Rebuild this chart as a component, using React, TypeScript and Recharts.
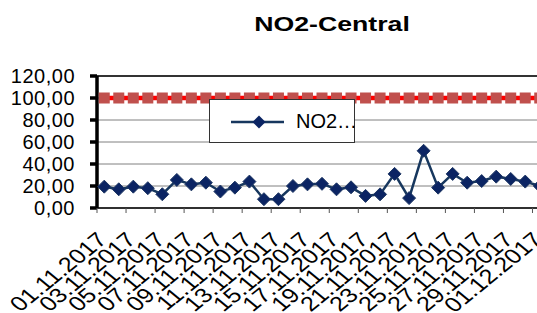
import React from 'react';
import {
  ComposedChart,
  Line,
  XAxis,
  YAxis,
  CartesianGrid,
  Legend,
  ReferenceLine,
} from 'recharts';

// dates of the measurements (daily, November 2017)
const dates = [
  '01.11.2017', '02.11.2017', '03.11.2017', '04.11.2017', '05.11.2017',
  '06.11.2017', '07.11.2017', '08.11.2017', '09.11.2017', '10.11.2017',
  '11.11.2017', '12.11.2017', '13.11.2017', '14.11.2017', '15.11.2017',
  '16.11.2017', '17.11.2017', '18.11.2017', '19.11.2017', '20.11.2017',
  '21.11.2017', '22.11.2017', '23.11.2017', '24.11.2017', '25.11.2017',
  '26.11.2017', '27.11.2017', '28.11.2017', '29.11.2017', '30.11.2017',
  '01.12.2017',
];

const no2Values = [
  19.4, 17, 19.4, 18, 12.5, 25.5, 21.5, 23, 15, 18.5,
  24, 8, 8, 20, 21.5, 22, 17, 18.8, 11, 12.4,
  31, 9, 52, 18.5, 31, 23, 24.5, 28.5, 26.4, 24,
  20,
];

const limitValues = dates.map(() => 100);

const yTicks = [0, 20, 40, 60, 80, 100, 120];

const data = dates.map((date, i) => ({
  date,
  no2: no2Values[i],
  limit: limitValues[i],
}));

const FONT = '"Liberation Sans", Arial, sans-serif';
const NAVY = '#0b2463';
const BAND = 14.5;

const fmt = (v: number) => v.toFixed(2).replace('.', ',');

const Diamond = (props: any) => {
  const { cx, cy } = props;
  if (cx == null || cy == null) return null;
  const r = 6.5;
  return (
    <path
      d={`M${cx},${cy - r} L${cx + r},${cy} L${cx},${cy + r} L${cx - r},${cy} Z`}
      fill={NAVY}
      stroke="#1f3864"
      strokeWidth={1}
    />
  );
};

const Square = (props: any) => {
  const { cx, cy } = props;
  if (cx == null || cy == null) return null;
  return <rect x={cx - 5.5} y={cy - 5.5} width={11} height={11} fill="#c0504d" />;
};

// labels every second day, tick marks sit on the category boundary
const DateTick = (props: any) => {
  const { x, y, payload, index } = props;
  if (index % 2 !== 0) return null;
  const tx = x - BAND / 2;
  const ax = x + 4;
  const ay = y + 33;
  return (
    <g>
      <line x1={tx} y1={y} x2={tx} y2={y + 5} stroke="#555" strokeWidth={1} />
      <text
        x={0}
        y={0}
        textAnchor="end"
        transform={`translate(${ax},${ay}) scale(1.23,1) rotate(-45)`}
        fontFamily={FONT}
        fontSize={20.5}
        fill="#000"
      >
        {payload.value}
      </text>
    </g>
  );
};

const LegendBox = () => (
  <div
    style={{
      width: 144,
      height: 42,
      border: '1px solid #333',
      background: '#fff',
      position: 'relative',
      fontFamily: FONT,
    }}
  >
    <svg width={80} height={42} style={{ position: 'absolute', left: 0, top: 0 }}>
      <line x1={21} y1={22} x2={74} y2={22} stroke="#17375e" strokeWidth={2.5} />
      <path d="M49,15.5 L55.5,22 L49,28.5 L42.5,22 Z" fill={NAVY} />
    </svg>
    <span
      style={{
        position: 'absolute',
        left: 86,
        top: 9,
        fontSize: 20,
        lineHeight: '24px',
        color: '#000',
      }}
    >
      NO2…
    </span>
  </div>
);

export default function App() {
  return (
    <div
      style={{
        position: 'absolute',
        left: 0,
        top: 0,
        width: 537,
        height: 313,
        overflow: 'hidden',
        background: '#fff',
      }}
    >
      <div
        style={{
          position: 'absolute',
          left: 332,
          top: 12,
          transform: 'translateX(-50%) scaleX(1.27)',
          fontFamily: FONT,
          fontWeight: 'bold',
          fontSize: 21,
          lineHeight: '24px',
          whiteSpace: 'nowrap',
        }}
      >
        NO2-Central
      </div>
      <ComposedChart
        width={547}
        height={313}
        data={data}
        margin={{ top: 76, right: 0, bottom: 0, left: 0 }}
      >
        <CartesianGrid vertical={false} stroke="#808080" />
        <XAxis
          dataKey="date"
          scale="band"
          interval={0}
          height={105}
          tickSize={0}
          tickMargin={0}
          tickLine={false}
          axisLine={{ stroke: '#000', strokeWidth: 1.5 }}
          tick={<DateTick />}
        />
        <YAxis
          domain={[0, 120]}
          ticks={yTicks}
          width={97}
          tickFormatter={fmt}
          tickSize={7}
          tickMargin={15}
          axisLine={{ stroke: '#000', strokeWidth: 3.5 }}
          tickLine={{ stroke: '#000', strokeWidth: 3.5 }}
          tick={{ fill: '#000', fontFamily: FONT, fontSize: 20, letterSpacing: 0.5 }}
          interval={0}
        />
        <ReferenceLine y={120} stroke="#333" strokeWidth={2} />
        <Line
          dataKey="limit"
          name="Limit"
          stroke="#ff0000"
          strokeWidth={4.5}
          dot={<Square />}
          activeDot={false}
          isAnimationActive={false}
          legendType="none"
        />
        <Line
          dataKey="no2"
          name="NO2"
          stroke="#17375e"
          strokeWidth={2.5}
          dot={<Diamond />}
          activeDot={false}
          isAnimationActive={false}
        />
        <Legend
          layout="vertical"
          align="center"
          verticalAlign="middle"
          wrapperStyle={{ left: 209, top: 99, width: 146, height: 44 }}
          content={() => <LegendBox />}
        />
      </ComposedChart>
    </div>
  );
}
